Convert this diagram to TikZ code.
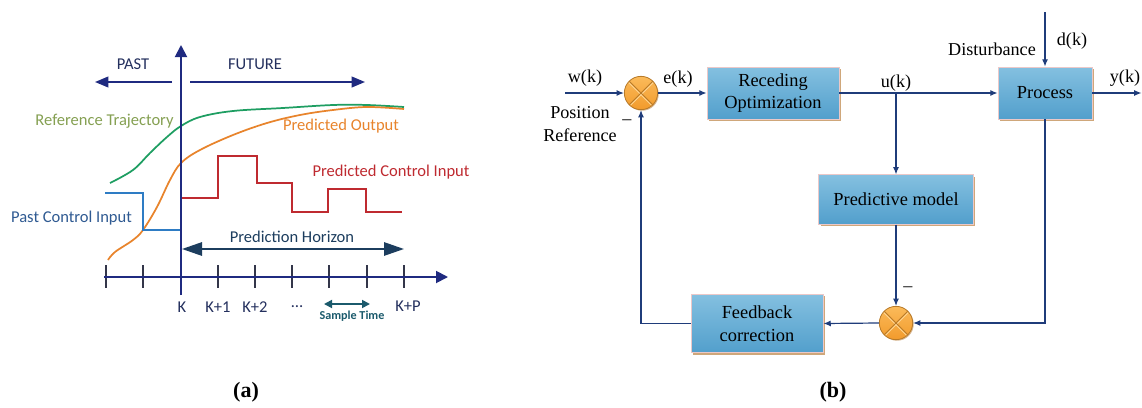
\documentclass[tikz,border=0pt]{standalone}
\usepackage{fontspec}
\setmainfont{Liberation Serif}
\newfontfamily\carl{Carlito}
\usetikzlibrary{arrows.meta,shadows}
\definecolor{axnavy}{HTML}{1F2A80}
\definecolor{ticgray}{HTML}{33364A}
\definecolor{refgreen}{HTML}{1E9E62}
\definecolor{reftext}{HTML}{85A052}
\definecolor{outorange}{HTML}{E8842C}
\definecolor{ctlred}{HTML}{BF2A30}
\definecolor{pastblue}{HTML}{2E7CC4}
\definecolor{pasttext}{HTML}{2F5A92}
\definecolor{horiz}{HTML}{1C3D5E}
\definecolor{sampl}{HTML}{1B5A6C}
\definecolor{labnavy}{HTML}{24305E}
\definecolor{linenavy}{HTML}{1F3C7A}
\definecolor{boxtop}{HTML}{84C0E0}
\definecolor{boxbot}{HTML}{529FCC}
\definecolor{boxedge}{HTML}{EBC8C8}
\definecolor{shadowtan}{HTML}{CFA77A}
\definecolor{sumtop}{HTML}{FBBB5A}
\definecolor{sumbot}{HTML}{F29A2C}
\definecolor{sumedge}{HTML}{B87A28}
\definecolor{sumlight}{HTML}{FFD898}
\tikzset{
  atext/.style={font=\carl\fontsize{12.4}{14}\selectfont, inner sep=0},
  btext/.style={font=\fontsize{13.6}{16.5}\selectfont, inner sep=0, align=center},
  blockbox/.style={draw=boxedge, line width=0.6pt, top color=boxtop, bottom color=boxbot,
    inner sep=0, align=center, font=\fontsize{13.8}{17}\selectfont,
    drop shadow={shadow xshift=1.5pt, shadow yshift=-1.5pt, fill=shadowtan, opacity=1}},
  sumnode/.style={circle, draw=sumedge, line width=0.6pt, top color=sumtop, bottom color=sumbot,
    minimum size=25pt, inner sep=0,
    drop shadow={shadow xshift=0.8pt, shadow yshift=-0.8pt, fill=shadowtan, opacity=0.8},
    path picture={
      \draw[sumlight, line width=0.7pt] ([yshift=-1.3pt]path picture bounding box.north west) -- ([yshift=-1.3pt]path picture bounding box.south east);
      \draw[sumlight, line width=0.7pt] ([yshift=-1.3pt]path picture bounding box.north east) -- ([yshift=-1.3pt]path picture bounding box.south west);
      \draw[sumedge, line width=0.6pt] (path picture bounding box.north west) -- (path picture bounding box.south east);
      \draw[sumedge, line width=0.6pt] (path picture bounding box.north east) -- (path picture bounding box.south west);
    }},
  conn/.style={draw=linenavy, line width=0.9pt, -{Latex[length=5.5pt,width=4.5pt]}},
  axisline/.style={draw=axnavy, line width=1.4pt},
}
\begin{document}
\begin{tikzpicture}[x=0.75pt,y=-0.75pt]
\useasboundingbox (0,0) rectangle (1142,407);
\fill[white] (0,0) rectangle (1142,407);

% ---------------- panel (a) ----------------
% curves
\draw[refgreen, line width=1.3pt] plot[smooth, tension=0.6] coordinates
  {(110,183) (133,170) (150,153) (167,137) (181,126) (200,117) (233,111) (283,108) (333,105) (367,105) (404,107)};
\draw[outorange, line width=1.3pt] plot[smooth, tension=0.6] coordinates
  {(108,260) (115,252) (133,240) (143,230) (157,207) (170,180) (181,163) (200,150) (233,135) (267,123) (300,115) (333,110) (367,107) (404,109)};
% past control input
\draw[pastblue, line width=1.6pt] (105,193) -- (143,193) -- (143,230) -- (181,230);
% predicted control input
\draw[ctlred, line width=1.6pt] (181,198) -- (218,198) -- (218,156) -- (257,156) -- (257,183)
  -- (292,183) -- (292,212) -- (328,212) -- (328,189) -- (366,189) -- (366,212) -- (402,212);
% ticks
\foreach \tx in {106,143,218,255,292,329,367,404}
  \draw[ticgray, line width=1.2pt] (\tx,265) -- (\tx,288);
% axes
\draw[axisline, -{Triangle[length=9pt,width=9pt]}] (104,277) -- (448,277);
\draw[axisline, -{Triangle[length=9pt,width=9pt]}] (181,295) -- (181,45);
% past / future arrows
\draw[axisline, -{Triangle[length=10pt,width=8pt]}] (172,82) -- (95,82);
\draw[axisline, -{Triangle[length=10pt,width=8pt]}] (190,82) -- (365,82);
% prediction horizon
\draw[horiz, line width=1.4pt, {Triangle[length=15pt,width=10pt]}-{Triangle[length=15pt,width=10pt]}] (182,249) -- (404,249);
% sample time
\draw[sampl, line width=1.3pt, {Triangle[length=6pt,width=6pt]}-{Triangle[length=6pt,width=6pt]}] (324,304) -- (370,304);
% texts
\node[atext, text=labnavy] (tpast) at (133,64) {PAST};
\node[atext, text=labnavy] (tfut) at (255,64) {FUTURE};
\node[atext, text=reftext] (tref) at (104.5,121) {Reference Trajectory};
\node[atext, text=outorange] (tout) at (341,126) {Predicted Output};
\node[atext, text=ctlred] (tctl) at (391,172) {Predicted Control Input};
\node[atext, text=pasttext] (tpci) at (71.5,218) {Past Control Input};
\node[atext, text=horiz] (thor) at (292,237) {Prediction Horizon};
\node[atext, text=labnavy] (tk0) at (182,307) {K};
\node[atext, text=labnavy] (tk1) at (218,307) {K+1};
\node[atext, text=labnavy] (tk2) at (255,307) {K+2};
\node[atext, text=labnavy] (tdots) at (297,307) {\dots};
\node[atext, text=labnavy] (tkp) at (408,306) {K+P};
\node[font=\carl\bfseries\fontsize{9.1}{11}\selectfont, text=sampl, inner sep=0] (tst) at (352,316) {Sample Time};
\node[font=\bfseries\fontsize{16.5}{19}\selectfont, inner sep=0] (la) at (246,392) {(a)};

% ---------------- panel (b) ----------------
\node[sumnode] (s1) at (641,93) {};
\node[blockbox, minimum width=99pt, minimum height=39pt] (ro) at (773,93) {Receding\\Optimization};
\node[blockbox, minimum width=70.5pt, minimum height=39pt] (pr) at (1045,93) {Process};
\node[blockbox, minimum width=116pt, minimum height=37pt] (pm) at (896,199.5) {Predictive model};
\node[sumnode] (s2) at (896,323) {};
\node[blockbox, minimum width=99pt, minimum height=44pt] (fc) at (757,323.5) {Feedback\\correction};

\coordinate (win) at (565,93);
\coordinate (br) at (896,93);
\coordinate (dtop) at (1045,12);
\coordinate (yout) at (1141.5,93);

\draw[conn] (win) -- (s1.west);
\draw[conn] (s1.east) -- (ro.west);
\draw[conn] (ro.east) -- (pr.west);
\draw[conn] (br) -- (pm.north);
\draw[conn] (dtop) -- (pr.north);
\draw[conn] (pr.east) -- (yout);
\draw[conn] (pr.south) |- (s2.east);
\draw[conn] (pm.south) -- (s2.north);
\draw[conn] (s2.west) -- (fc.east);
\draw[conn] (fc.west) -| (s1.south);

\node[btext] (lw) at (585,78) {w(k)};
\node[btext] (lpos) at (580,113) {Position};
\node[btext] (lref) at (580,135) {Reference};
\node[btext] (lm1) at (627,122) {\textendash};
\node[btext] (le) at (678,79) {e(k)};
\node[btext] (lu) at (896,83) {u(k)};
\node[btext] (ldist) at (992,49) {Disturbance};
\node[btext] (ld) at (1072,41) {d(k)};
\node[btext] (ly) at (1125,78) {y(k)};
\node[btext] (lm2) at (908,289) {\textendash};
\node[font=\bfseries\fontsize{16.5}{19}\selectfont, inner sep=0] (lb) at (833,392) {(b)};
\end{tikzpicture}
\end{document}
